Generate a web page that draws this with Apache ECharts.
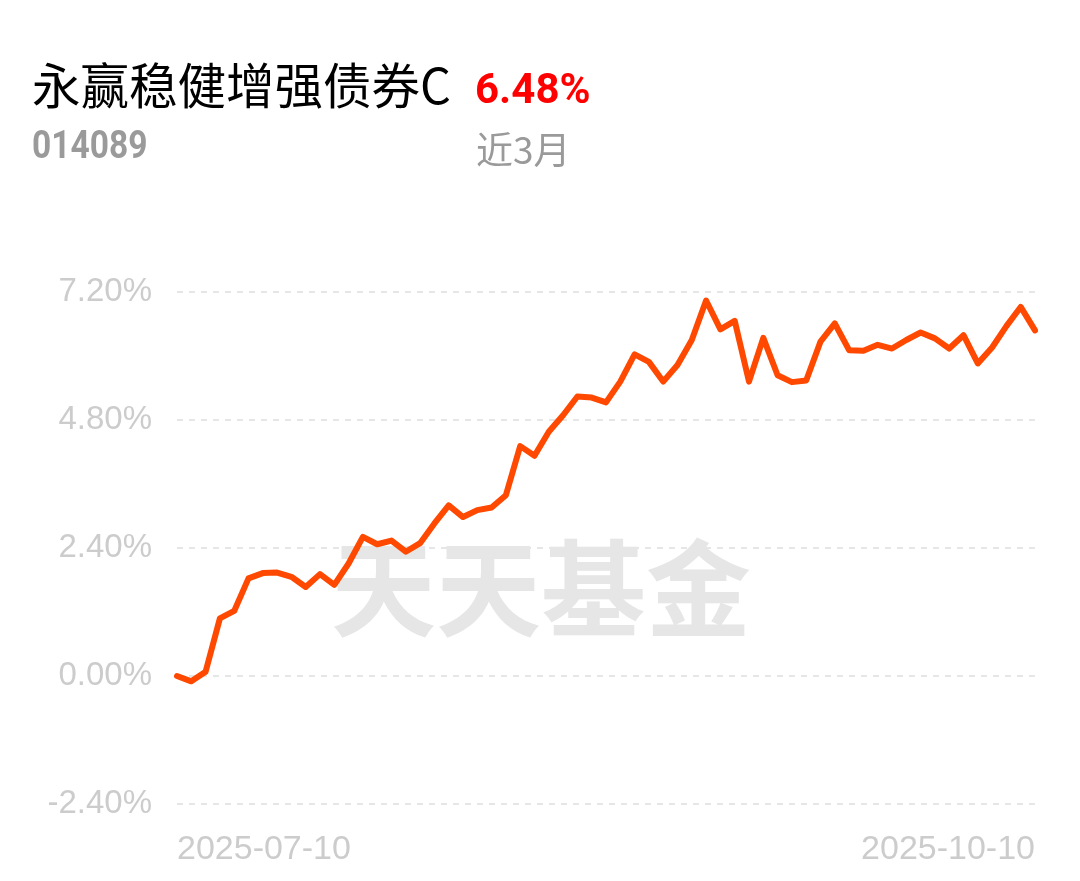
<!DOCTYPE html>
<html>
<head>
<meta charset="utf-8">
<script src="https://cdn.jsdelivr.net/npm/echarts@6/dist/echarts.min.js"></script>
<style>
html,body{margin:0;padding:0;background:#fff;}
#main{width:1080px;height:881px;}
</style>
</head>
<body>
<div id="main"></div>
<script>
// ---- data ----
var fundName = '永赢稳健增强债券C';
var fundCode = '014089';
var periodReturn = '6.48%';
var periodLabel = '近3月';
var watermark = '天天基金';

var dates = [
  '2025-07-10','2025-07-11','2025-07-14','2025-07-15','2025-07-16','2025-07-17','2025-07-18',
  '2025-07-21','2025-07-22','2025-07-23','2025-07-24','2025-07-25','2025-07-28','2025-07-29',
  '2025-07-30','2025-07-31','2025-08-01','2025-08-04','2025-08-05','2025-08-06','2025-08-07',
  '2025-08-08','2025-08-11','2025-08-12','2025-08-13','2025-08-14','2025-08-15','2025-08-18',
  '2025-08-19','2025-08-20','2025-08-21','2025-08-22','2025-08-25','2025-08-26','2025-08-27',
  '2025-08-28','2025-08-29','2025-09-01','2025-09-02','2025-09-03','2025-09-04','2025-09-05',
  '2025-09-08','2025-09-09','2025-09-10','2025-09-11','2025-09-12','2025-09-15','2025-09-16',
  '2025-09-17','2025-09-18','2025-09-19','2025-09-22','2025-09-23','2025-09-24','2025-09-25',
  '2025-09-26','2025-09-29','2025-09-30','2025-10-09','2025-10-10'
];

var returns = [
  0.00, -0.10, 0.08, 1.08, 1.22, 1.83, 1.93, 1.94, 1.86, 1.67,
  1.91, 1.71, 2.11, 2.61, 2.47, 2.54, 2.33, 2.49, 2.86, 3.20,
  2.98, 3.11, 3.16, 3.39, 4.31, 4.13, 4.58, 4.89, 5.24, 5.22,
  5.13, 5.52, 6.03, 5.89, 5.52, 5.83, 6.30, 7.04, 6.50, 6.66,
  5.52, 6.34, 5.64, 5.51, 5.54, 6.27, 6.61, 6.11, 6.10, 6.21,
  6.14, 6.30, 6.44, 6.33, 6.14, 6.39, 5.86, 6.16, 6.56, 6.92,
  6.48
];

var yMin = -2.4, yMax = 7.2, yStep = 2.4;

// ---- chart ----
var chart = echarts.init(document.getElementById('main'), null, {renderer: 'canvas'});
var last = dates.length - 1;
var option = {
  animation: false,
  backgroundColor: '#ffffff',
  grid: {left: 177, right: 45, top: 292, bottom: 77, containLabel: false},
  graphic: [
    {type: 'text', left: 32, top: 61, z: 10,
     style: {text: fundName, fontSize: 48.5, fontFamily: 'Noto Sans CJK SC', fill: '#000000'}},
    {type: 'text', left: 475, top: 71, z: 10,
     style: {text: periodReturn, fontSize: 42, fontWeight: 'bold', fontFamily: 'Roboto', fill: '#ff0000'}},
    {type: 'text', left: 32, top: 129, z: 10, scaleX: 0.86,
     style: {text: fundCode, fontSize: 39, fontWeight: 'bold', fontFamily: 'Roboto', fill: '#9a9a9a'}},
    {type: 'text', left: 476, top: 131, z: 10,
     style: {text: periodLabel, fontSize: 37, fontFamily: 'Noto Sans CJK SC', fill: '#9a9a9a'}},
    {type: 'text', left: 331, top: 536, z: 0,
     style: {text: watermark, fontSize: 105, fontWeight: 'bold', fontFamily: 'Noto Sans CJK SC', fill: '#e6e6e6'}}
  ],
  xAxis: {
    type: 'category',
    data: dates,
    boundaryGap: false,
    axisLine: {show: false},
    axisTick: {show: false},
    splitLine: {show: false},
    axisLabel: {
      interval: function (i) { return i === 0 || i === last; },
      showMinLabel: true,
      showMaxLabel: true,
      alignMinLabel: 'left',
      alignMaxLabel: 'right',
      color: '#cccccc',
      fontSize: 34,
      fontFamily: '"Liberation Sans", Arial, sans-serif',
      margin: 29
    }
  },
  yAxis: {
    type: 'value',
    min: yMin,
    max: yMax,
    interval: yStep,
    axisLine: {show: false},
    axisTick: {show: false},
    axisLabel: {
      formatter: function (v) { return v.toFixed(2) + '%'; },
      color: '#cccccc',
      fontSize: 33,
      fontFamily: '"Liberation Sans", Arial, sans-serif',
      margin: 25,
      verticalAlign: 'middle',
      padding: [10, 0, 0, 0]
    },
    splitLine: {show: true, lineStyle: {color: '#e6e6e6', width: 2, type: [6, 6]}}
  },
  series: [{
    type: 'line',
    data: returns,
    symbol: 'none',
    smooth: false,
    z: 5,
    lineStyle: {color: '#ff4800', width: 6, join: 'round', cap: 'round'}
  }]
};
chart.setOption(option);
</script>
</body>
</html>
